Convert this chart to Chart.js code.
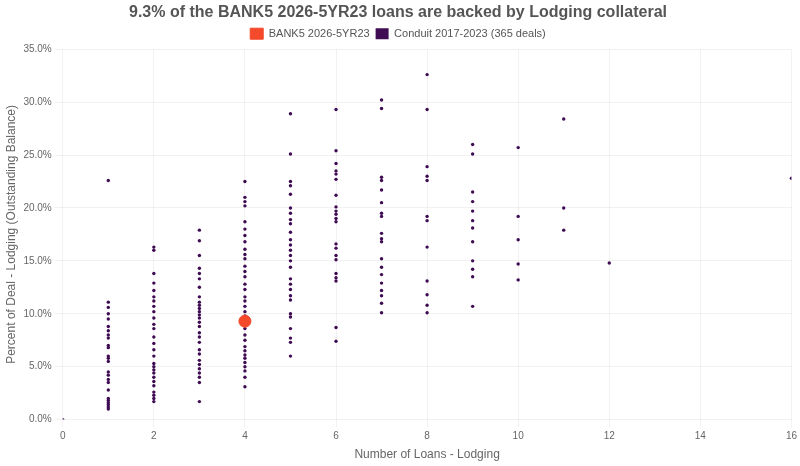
<!DOCTYPE html>
<html>
<head>
<meta charset="utf-8">
<script src="https://cdn.jsdelivr.net/npm/chart.js@4"></script>
<style>
  html, body { margin: 0; padding: 0; background: #fff; }
  #wrap { width: 800px; height: 466px; }
</style>
</head>
<body>
<div id="wrap"><canvas id="chart"></canvas></div>
<script>
// Percent of deal in Lodging, grouped by number of lodging loans
const conduitByLoans = {
  0: [0],
  1: [22.6, 11.1, 10.6, 10.0, 9.5, 8.8, 8.4, 8.0, 7.7, 7.0, 6.8, 6.0, 5.8, 5.5, 4.5, 4.2, 3.8, 3.5, 2.8, 2.0, 1.8, 1.6, 1.4, 1.2, 1.0],
  2: [16.3, 16.0, 13.8, 12.9, 12.2, 11.6, 11.2, 10.7, 10.2, 9.6, 9.0, 8.6, 7.8, 7.2, 6.6, 6.0, 5.3, 5.0, 4.7, 4.4, 4.0, 3.6, 3.2, 2.6, 2.3, 2.0, 1.7],
  3: [17.9, 16.9, 15.5, 14.3, 13.8, 13.3, 12.5, 11.6, 11.1, 10.8, 10.5, 10.2, 9.9, 9.6, 9.2, 8.8, 8.2, 7.8, 7.3, 6.6, 6.2, 5.6, 5.2, 4.8, 4.4, 4.0, 3.5, 1.7],
  4: [22.5, 21.0, 20.6, 20.2, 18.7, 18.0, 17.4, 16.8, 16.1, 15.6, 15.2, 14.5, 14.0, 13.5, 12.8, 12.3, 11.6, 11.2, 10.7, 10.2, 9.8, 9.0, 8.6, 8.0, 7.5, 6.9, 6.5, 6.1, 5.8, 5.4, 5.0, 4.6, 4.0, 3.1],
  5: [28.9, 25.1, 22.5, 22.1, 21.3, 20.0, 19.5, 18.9, 18.5, 17.7, 17.0, 16.5, 16.0, 15.5, 15.0, 14.4, 13.3, 12.8, 12.3, 11.7, 11.3, 10.0, 9.7, 8.6, 7.7, 7.3, 6.0],
  6: [29.3, 25.4, 24.2, 23.5, 23.2, 22.7, 21.2, 20.1, 19.7, 19.4, 19.0, 18.7, 16.6, 16.2, 15.5, 15.1, 13.8, 13.4, 13.1, 8.7, 7.4],
  7: [30.2, 29.4, 22.9, 22.6, 21.7, 20.5, 19.5, 19.2, 17.6, 17.1, 16.8, 15.2, 14.4, 13.7, 12.9, 12.2, 11.7, 11.0, 10.1],
  8: [32.6, 29.3, 23.9, 23.0, 22.6, 19.2, 18.8, 16.3, 13.1, 11.8, 10.8, 10.1],
  9: [26.0, 25.1, 21.5, 20.6, 19.7, 18.8, 18.1, 16.8, 15.0, 14.2, 13.5, 10.7],
  10: [25.7, 19.2, 17.0, 14.7, 13.2],
  11: [28.4, 20.0, 17.9],
  12: [14.8],
  16: [22.8],
}
const bank5Loans = [4]
const bank5Pct = [9.3]

const conduitPoints = []
Object.keys(conduitByLoans).forEach((k) => {
  conduitByLoans[k].forEach((v) => conduitPoints.push({ x: Number(k), y: v }))
})
const bank5Points = bank5Loans.map((x, i) => ({ x: x, y: bank5Pct[i] }))

const grey = "#666"
const gridColor = "rgba(0,0,0,0.05)"

new Chart(document.getElementById("chart"), {
  type: "scatter",
  data: {
    datasets: [
      {
        label: "BANK5 2026-5YR23",
        data: bank5Points,
        backgroundColor: "#f4492a",
        borderColor: "#f4492a",
        pointRadius: 6,
        pointHoverRadius: 7,
      },
      {
        label: "Conduit 2017-2023 (365 deals)",
        data: conduitPoints,
        backgroundColor: "#3f0b52",
        borderColor: "#3f0b52",
        borderWidth: 0,
        pointRadius: 1.7,
        pointHoverRadius: 3,
      },
    ],
  },
  options: {
    responsive: true,
    maintainAspectRatio: false,
    animation: false,
    layout: { padding: { left: 0, right: 4, top: 0, bottom: 0 } },
    plugins: {
      title: {
        display: true,
        text: "9.3% of the BANK5 2026-5YR23 loans are backed by Lodging collateral",
        color: "#555",
        font: { family: "Liberation Sans", size: 16, weight: "bold" },
        padding: { top: 3, bottom: 0 },
      },
      legend: {
        position: "top",
        labels: {
          color: "#555",
          font: { family: "Liberation Sans", size: 11 },
          boxWidth: 13,
          boxHeight: 11,
          padding: 6,
        },
      },
    },
    scales: {
      x: {
        type: "linear",
        min: 0,
        max: 16,
        ticks: { stepSize: 2, color: grey, font: { family: "Liberation Sans", size: 10 } },
        grid: { color: gridColor },
        border: { display: false },
        title: {
          display: true,
          text: "Number of Loans - Lodging",
          color: grey,
          font: { family: "Liberation Sans", size: 12 },
          padding: { top: 2 },
        },
      },
      y: {
        min: 0,
        max: 35,
        ticks: {
          stepSize: 5,
          color: grey,
          padding: 3,
          font: { family: "Liberation Sans", size: 10 },
          callback: (value) => value.toFixed(1) + "%",
        },
        grid: { color: gridColor },
        border: { display: false },
        title: {
          display: true,
          text: "Percent of Deal - Lodging (Outstanding Balance)",
          color: grey,
          font: { family: "Liberation Sans", size: 12 },
          padding: { bottom: 2 },
        },
      },
    },
  },
})
</script>
</body>
</html>
